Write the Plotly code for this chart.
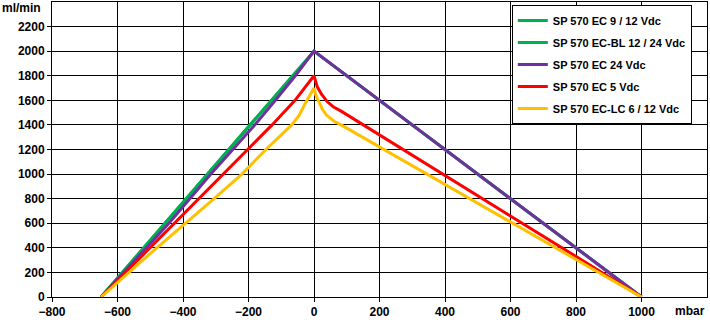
import plotly.graph_objects as go

# ---- data ----
names = ["SP 570 EC 9 / 12 Vdc", "SP 570 EC-BL 12 / 24 Vdc", "SP 570 EC 24 Vdc",
         "SP 570 EC 5 Vdc", "SP 570 EC-LC 6 / 12 Vdc"]
colors = ["#00B050", "#00B050", "#7030A0", "#FF0000", "#FFC000"]

x_ec912 = [-650, 0, 1000]
y_ec912 = [0, 2000, 0]

x_ecbl = [-650, 0, 1000]
y_ecbl = [0, 2000, 0]

x_ec24 = [-650, -512, -443, -315, -248, -181, -118, -57, 0, 1000]
y_ec24 = [0, 400, 600, 1000, 1200, 1400, 1600, 1800, 2000, 0]

x_ec5 = [-650, -275, -200, -128, -58, 0, 10, 23, 40, 60, 84, 1000]
y_ec5 = [0, 1000, 1200, 1400, 1600, 1800, 1710, 1650, 1590, 1545, 1510, 0]

x_eclc = [-650, -480, -305, -220, -147, -68, -45, -27, 0, 6, 13, 25, 38, 60, 84, 1000]
y_eclc = [0, 400, 800, 1000, 1200, 1400, 1480, 1575, 1700, 1640, 1600, 1530, 1480, 1432, 1398, 0]

x_ticks = [-800, -600, -400, -200, 0, 200, 400, 600, 800, 1000]
y_ticks = [0, 200, 400, 600, 800, 1000, 1200, 1400, 1600, 1800, 2000, 2200]

series_x = [x_ec912, x_ecbl, x_ec24, x_ec5, x_eclc]
series_y = [y_ec912, y_ecbl, y_ec24, y_ec5, y_eclc]

FONT = "Arial, 'Liberation Sans', sans-serif"

fig = go.Figure()
for i, (n, c, xs, ys) in enumerate(zip(names, colors, series_x, series_y)):
    fig.add_trace(go.Scatter(x=xs, y=ys, mode="lines", name=n, legendgroup=f"g{i}",
                             line=dict(color=c, width=3)))

axis_common = dict(
    showgrid=True, gridcolor="black", gridwidth=1,
    zeroline=False, showline=True, linecolor="black", linewidth=1, mirror=True,
    ticks="outside", ticklen=4, tickcolor="black",
    tickfont=dict(family=FONT, size=12, color="black", weight="bold"),
)

fig.update_xaxes(range=[-800, 1200], tickvals=x_ticks, **axis_common)
fig.update_yaxes(range=[0, 2400], tickvals=y_ticks, **axis_common)

fig.update_layout(
    width=710, height=323,
    margin=dict(l=52, r=3, t=2, b=26),
    paper_bgcolor="white", plot_bgcolor="white",
    showlegend=True,
    legend=dict(
        x=0.702, y=0.99, xanchor="left", yanchor="top",
        bgcolor="white", bordercolor="black", borderwidth=1,
        font=dict(family=FONT, size=11, color="black", weight="bold"),
        tracegroupgap=3, itemwidth=30,
    ),
    annotations=[
        dict(text="ml/min", xref="paper", yref="paper", x=0, y=0.98, xanchor="right",
             yanchor="middle", xshift=-9, showarrow=False,
             font=dict(family=FONT, size=12, color="black", weight="bold")),
        dict(text="mbar", xref="paper", yref="paper", x=0.974, y=-0.046, xanchor="center",
             yanchor="middle", showarrow=False,
             font=dict(family=FONT, size=12, color="black", weight="bold")),
    ],
)

fig.write_html("out.html", config={"displayModeBar": False},
               post_script="document.body.style.margin='0';")
